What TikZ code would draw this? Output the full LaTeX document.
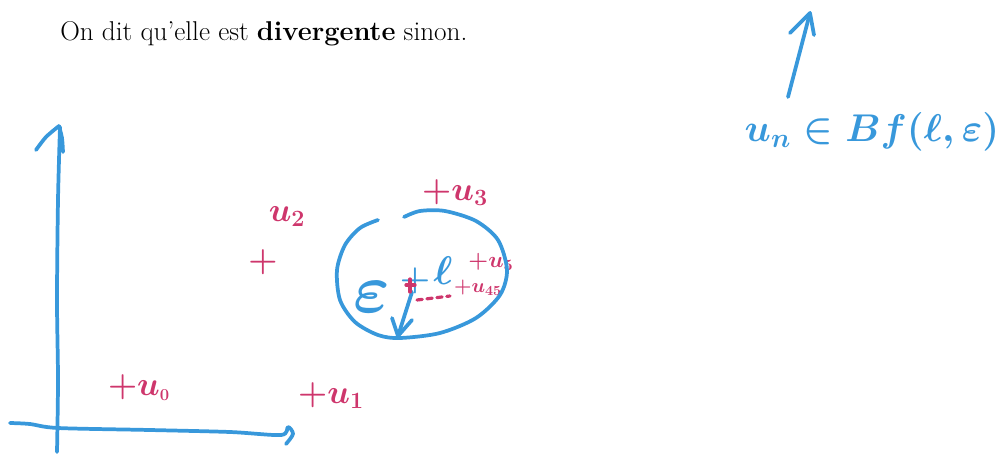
\RequirePackage{fix-cm}
\documentclass[tikz,border=0pt]{standalone}
\usepackage{amssymb}
\definecolor{penblue}{RGB}{56,152,219}
\definecolor{penred}{RGB}{206,54,108}
\begin{document}
\begin{tikzpicture}[x=0.75pt,y=-0.75pt,
  stroke/.style={line width=2.8pt, line cap=round, line join=round, draw=penblue},
  rstroke/.style={line width=2.4pt, line cap=round, line join=round, draw=penred},
  rlab/.style={text=penred, inner sep=0pt, font=\fontsize{25}{27}\selectfont\boldmath},
  blab/.style={text=penblue, inner sep=0pt}]
\useasboundingbox (0,0) rectangle (1003,454);
% printed sentence
\node[anchor=base west, inner sep=0pt, font=\fontsize{20.4}{24}\selectfont] (title) at (60,40) {On dit qu'elle est \textbf{divergente} sinon.};
% axes
\draw[stroke] plot[smooth] coordinates {(57,452) (58,380) (57,300) (58,200) (60,127)};
\draw[stroke] plot[smooth] coordinates {(36,150) (46,137) (59,126)};
\draw[stroke] plot[smooth] coordinates {(59,126) (62,138) (63,152)};
\draw[stroke] plot[smooth] coordinates {(10,423) (30,424) (58,428) (150,430) (230,432) (281,435) (288,427) (293,434) (286,444)};
% sequence terms
\node[rlab] (u0) at (139,388) {$+u_{\scriptscriptstyle 0}$};
\node[rlab] (u1) at (331,396) {$+u_1$};
\node[rlab] (u2) at (287,217) {$u_2$};
\node[rlab] (p2) at (263,262) {$+$};
\node[rlab] (u3) at (455,193) {$+u_3$};
\node[rlab, font=\fontsize{17}{19}\selectfont\boldmath] (u5) at (491,262) {$+u_5$};
\node[rlab, font=\fontsize{15}{17}\selectfont\boldmath] (u45) at (478,288) {$+u_{45}$};
% ball
\draw[stroke] plot[smooth] coordinates {(378,220) (360,228) (345,245) (337,270) (340,300) (355,322) (378,335) (400,338) (440,333) (476,318) (500,295) (507,270) (498,240) (476,221) (445,211) (420,211) (404,217)};
\node[blab, font=\fontsize{52}{52}\selectfont\boldmath] (eps) at (372,297) {$\varepsilon$};
\node[blab, font=\fontsize{26}{26}\selectfont\boldmath] (plus) at (415,281) {$+$};
\node[blab, font=\fontsize{30}{30}\selectfont\boldmath] (ell) at (443,271) {$\ell$};
\coordinate (c) at (412,292);
\coordinate (tip) at (398,336);
\draw[stroke] (c) -- (tip);
\draw[stroke] (392,318) -- (tip) -- (412,320);
% red marks near the centre
\draw[rstroke] (406,285) -- (415,285) (410,279) -- (410,292);
\draw[rstroke, dash pattern=on 4pt off 3.5pt] (417,300) -- (450,296);
% top right
\node[blab, font=\fontsize{29}{29}\selectfont\boldmath] (ball) at (872,132) {$u_n\in Bf(\ell,\varepsilon)$};
\coordinate (a1) at (788,97);
\coordinate (a2) at (810,13);
\draw[stroke] (a1) -- (a2);
\draw[stroke] (790,33) -- (a2) -- (814,35);
\end{tikzpicture}
\end{document}
